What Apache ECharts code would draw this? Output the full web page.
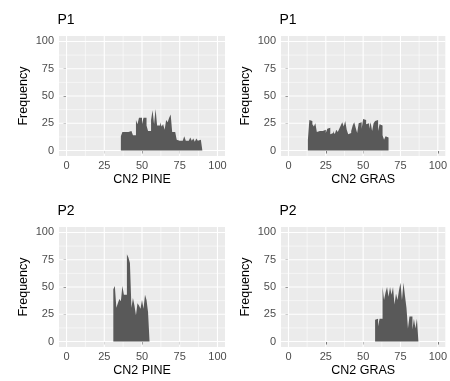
<!DOCTYPE html>
<html>
<head>
<meta charset="utf-8">
<script src="https://cdn.jsdelivr.net/npm/echarts@6/dist/echarts.min.js"></script>
<style>
  html, body { margin: 0; padding: 0; background: #fff; }
  #chart { width: 450px; height: 381px; }
</style>
</head>
<body>
<div id="chart"></div>
<script>
// histogram counts, one bin per unit, first bin starts at *Start
const p1PineStart = 36;
const p1PineCounts = [13, 17, 17, 16, 17, 17, 18, 17, 14, 14, 28, 24, 30, 30, 24, 30, 30, 23, 18, 18,
  28, 37, 24, 38, 23, 23, 26, 22, 24, 19, 28, 26, 30, 33, 17, 17, 16, 10, 9, 9,
  9, 9, 13, 9, 9, 9, 12, 9, 11, 8, 11, 9, 10, 9];
const p1GrasStart = 13;
const p1GrasCounts = [10, 28, 27, 24, 22, 25, 17, 18, 18, 18, 18, 19, 16, 20, 21, 15, 16, 18, 15, 19,
  17, 20, 23, 26, 22, 27, 19, 15, 16, 18, 23, 26, 21, 16, 25, 26, 20, 29, 28, 24,
  25, 20, 26, 18, 25, 27, 28, 18, 24, 23, 14, 10, 13, 12];
const p2PineStart = 31;
const p2PineCounts = [48, 51, 31, 35, 39, 37, 51, 43, 43, 80, 77, 72, 31, 40, 33, 24, 35, 33, 30, 38,
  30, 43, 38, 27];
const p2GrasStart = 58;
const p2GrasCounts = [20, 21, 14, 21, 21, 50, 38, 45, 50, 41, 50, 43, 50, 34, 44, 38, 47, 54, 38, 54,
  42, 31, 12, 23, 23, 11, 21, 12, 21];

const panelTitles = ['P1', 'P1', 'P2', 'P2'];
const xNames = ['CN2 PINE', 'CN2 GRAS', 'CN2 PINE', 'CN2 GRAS'];
const tickValues = [0, 25, 50, 75, 100];
const minorValues = [12.5, 37.5, 62.5, 87.5];
const axisMin = -5, axisMax = 105;
const binWidth = 1;

const hists = [
  [p1PineStart, p1PineCounts],
  [p1GrasStart, p1GrasCounts],
  [p2PineStart, p2PineCounts],
  [p2GrasStart, p2GrasCounts]
];

const font = 'Liberation Sans, Arial, sans-serif';
const grids = [
  { left: 59, top: 36, width: 166, height: 120 },
  { left: 281, top: 36, width: 165, height: 120 },
  { left: 59, top: 227, width: 166, height: 120 },
  { left: 281, top: 227, width: 165, height: 120 }
];

// grid line items: [value, isVertical, isMajor]
const gridLineData = [];
tickValues.forEach(v => { gridLineData.push([v, 1, 1]); gridLineData.push([v, 0, 1]); });
minorValues.forEach(v => { gridLineData.push([v, 1, 0]); gridLineData.push([v, 0, 0]); });

function renderGridLine(params, api) {
  const v = api.value(0), vert = api.value(1), major = api.value(2);
  const a = vert ? api.coord([v, axisMin]) : api.coord([axisMin, v]);
  const b = vert ? api.coord([v, axisMax]) : api.coord([axisMax, v]);
  return {
    type: 'line',
    silent: true,
    shape: { x1: a[0], y1: a[1], x2: b[0], y2: b[1] },
    style: { stroke: '#ffffff', lineWidth: major ? 1.1 : 0.55 }
  };
}

// outline of the histogram: both top corners of every bin, closed at zero
function histOutline(start, counts) {
  const pts = [[start, 0]];
  counts.forEach((n, k) => {
    pts.push([start + k * binWidth, n]);
    pts.push([start + (k + 1) * binWidth, n]);
  });
  pts.push([start + counts.length * binWidth, 0]);
  return pts;
}

const labelStyle = { color: '#4D4D4D', fontSize: 11, fontFamily: font };
const tickStyle = { show: true, length: 3, lineStyle: { color: '#333333', width: 1 } };

const option = {
  animation: false,
  title: grids.map((g, i) => ({
    text: panelTitles[i],
    left: g.left - 1.5,
    top: g.top - 23,
    padding: 0,
    textStyle: { fontSize: 14, fontWeight: 'normal', color: '#000', fontFamily: font }
  })),
  grid: grids.map(g => Object.assign({ show: true, backgroundColor: '#EBEBEB', borderWidth: 0 }, g)),
  xAxis: grids.map((g, i) => ({
    type: 'value', gridIndex: i, min: axisMin, max: axisMax,
    name: xNames[i], nameLocation: 'middle', nameGap: 17,
    nameTextStyle: { color: '#000', fontSize: 12.5, fontFamily: font },
    axisLine: { show: false },
    axisTick: Object.assign({ customValues: tickValues }, tickStyle),
    axisLabel: Object.assign({ customValues: tickValues, margin: 4 }, labelStyle),
    splitLine: { show: false }
  })),
  yAxis: grids.map((g, i) => ({
    type: 'value', gridIndex: i, min: axisMin, max: axisMax,
    name: 'Frequency', nameLocation: 'middle', nameGap: 29,
    nameTextStyle: { color: '#000', fontSize: 12.5, fontFamily: font },
    axisLine: { show: false },
    axisTick: Object.assign({ customValues: tickValues }, tickStyle),
    axisLabel: Object.assign({ customValues: tickValues, margin: 5 }, labelStyle),
    splitLine: { show: false }
  })),
  series: []
};

hists.forEach((h, i) => {
  option.series.push({
    type: 'custom', xAxisIndex: i, yAxisIndex: i, silent: true, z: 1,
    renderItem: renderGridLine, data: gridLineData
  });
  option.series.push({
    type: 'line', xAxisIndex: i, yAxisIndex: i, z: 2,
    symbol: 'none', silent: true, smooth: false, sampling: null,
    lineStyle: { width: 0 },
    areaStyle: { color: '#595959', opacity: 1, origin: 'auto' },
    data: histOutline(h[0], h[1])
  });
});

const myChart = echarts.init(document.getElementById('chart'));
myChart.setOption(option);
</script>
</body>
</html>
